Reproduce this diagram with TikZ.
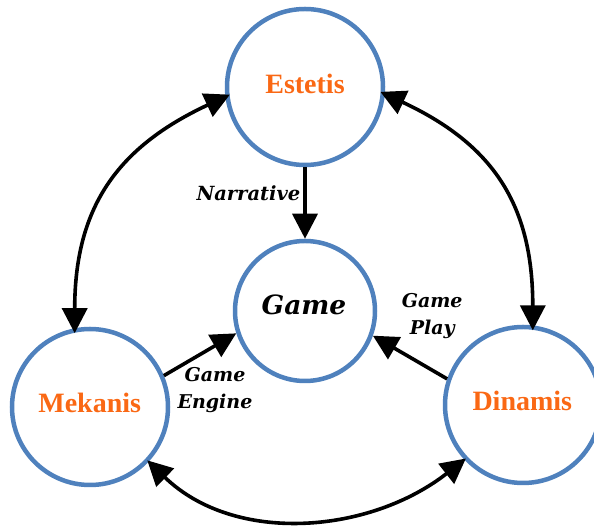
\documentclass[tikz,border=0pt]{standalone}
\usepackage{fontspec}
\newfontfamily\tnr{Liberation Serif}
\newfontfamily\dvs{DejaVu Serif}
\usetikzlibrary{arrows.meta}
\definecolor{cblue}{RGB}{79,129,189}
\definecolor{corange}{RGB}{250,104,20}
\begin{document}
\begin{tikzpicture}[x=1pt,y=1pt,
  ring/.style={circle, draw=cblue, line width=4.5pt, inner sep=0pt, minimum size=156pt},
  title/.style={font=\tnr\bfseries\fontsize{28}{30}\selectfont, text=corange, anchor=base, inner sep=0pt},
  lab/.style={font=\dvs\bfseries\itshape\fontsize{19}{27}\selectfont, align=center, anchor=base, inner sep=0pt},
  link/.style={line width=3.6pt, -{Triangle[width=25pt,length=25pt]}},
  dlink/.style={line width=3.6pt, {Triangle[width=25pt,length=25pt]}-{Triangle[width=25pt,length=25pt]}}]
\useasboundingbox (0,0) rectangle (594,526);
\node[ring] (est) at (305,439) {};
\node[ring, minimum size=140pt] (game) at (305,215) {};
\node[ring] (mek) at (90,119) {};
\node[ring] (din) at (523,121) {};
\node[title] (estT) at (305,432.7) {Estetis};
\node[title] (mekT) at (89.7,113.3) {Mekanis};
\node[title] (dinT) at (522.3,115.3) {Dinamis};
\node[lab, font=\dvs\bfseries\itshape\fontsize{26.5}{30}\selectfont] (gameT) at (304,211) {Game};
\node[lab, font=\dvs\bfseries\itshape\fontsize{19.5}{27}\selectfont] (narr) at (248.4,325.3) {Narrative};
\node[lab] (play) at (432.2,191) {Game\\Play};
\node[lab] (engine) at (215,117.7) {Game\\Engine};
\draw[link] (est.south) -- (game.north);
\draw[link] (mek.23) -- (game.198);
\draw[link] (din.161) -- (game.340);
\draw[dlink, shorten <=-5pt, shorten >=-5pt] (est.187) .. controls +(205:120) and +(90:120) .. (mek.101);
\draw[dlink, shorten <=-5pt, shorten >=-5pt] (est.355) .. controls +(-25:120) and +(90:120) .. (din.83);
\draw[dlink, shorten <=-2pt, shorten >=-2pt] (mek.317) .. controls +(-44:120) and +(218:120) .. (din.223);
\end{tikzpicture}
\end{document}
